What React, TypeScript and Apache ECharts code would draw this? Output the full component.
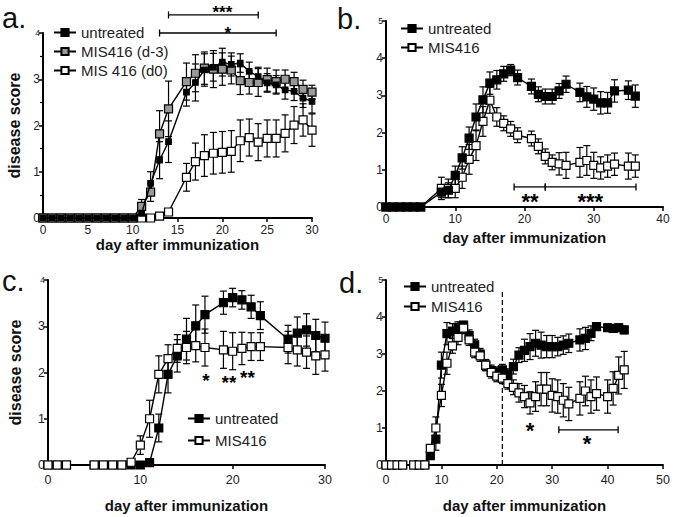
import React, { useEffect, useRef } from 'react';
import * as echarts from 'echarts';

const FONT = '"Liberation Sans", Arial, sans-serif';

// ---------- Panel a ----------
const A_DAYS = [0,1,2,3,4,5,6,7,8,9,10,11,12,13,14,16,17,18,19,20,21,22,23,24,25,26,27,28,29,30];
const A_UNTREATED = [0,0,0,0,0,0,0,0,0,0,0,0.1,0.75,1.25,1.65,2.72,2.93,3.2,3.26,3.37,3.32,3.35,3.17,3.06,2.92,2.88,2.77,2.74,2.59,2.52];
const A_UNTREATED_ERR = [0,0,0,0,0,0,0,0,0,0,0,0.12,0.25,0.4,0.45,0.3,0.4,0.35,0.3,0.3,0.25,0.2,0.2,0.2,0.2,0.2,0.2,0.2,0.2,0.25];
const A_D3 = [0,0,0,0,0,0,0,0,0,0,0,0.25,0.56,1.82,2.36,2.95,3.13,3.24,3.22,3.22,3.2,2.97,2.93,2.93,2.99,2.95,3.0,2.95,2.78,2.72];
const A_D3_ERR = [0,0,0,0,0,0,0,0,0,0,0,0.15,0.2,0.5,0.6,0.4,0.4,0.35,0.4,0.35,0.3,0.3,0.25,0.3,0.25,0.25,0.2,0.2,0.2,0.15];
const A_D0 = [0,0,0,0,0,0,0,0,0,0,0,0,0,0.04,0.13,0.88,1.22,1.35,1.4,1.42,1.44,1.67,1.74,1.64,1.72,1.72,1.83,2.01,2.12,1.9];
const A_D0_ERR = [0,0,0,0,0,0,0,0,0,0,0,0,0,0.03,0.05,0.3,0.4,0.45,0.45,0.45,0.45,0.45,0.4,0.4,0.4,0.4,0.4,0.4,0.35,0.35];
const A_BRACKETS = [[14, 24, 4.39], [13, 26, 4.0]];
const A_STARS = [[20, 4.45], [20.6, 4.0]];
const A_STAR_LABELS = ['***', '*'];

// ---------- Panel b ----------
const B_DAYS = [0,1,2,3,4,5,8,9,10,11,12,13,14,15,16,17,18,19,21,22,23,24,25,26,28,29,30,31,32,33,35,36];
const B_UNTREATED = [0,0,0,0,0,0,0.4,0.45,0.85,1.32,1.85,2.42,2.88,3.33,3.42,3.58,3.68,3.48,3.24,3.03,2.97,2.97,3.12,3.3,3.08,2.96,2.9,2.8,2.8,3.12,3.14,2.98];
const B_UNTREATED_ERR = [0,0,0,0,0,0,0.15,0.2,0.25,0.3,0.3,0.35,0.35,0.3,0.25,0.2,0.15,0.2,0.2,0.2,0.2,0.2,0.2,0.22,0.25,0.28,0.3,0.3,0.28,0.3,0.25,0.3];
const B_MIS = [0,0,0,0,0,0,0.5,0.5,0.5,0.8,1.28,1.65,2.3,2.87,2.42,2.25,2.1,1.93,1.84,1.63,1.36,1.2,1.16,1.12,1.2,1.25,1.12,1.05,1.1,1.15,1.1,1.1];
const B_MIS_ERR = [0,0,0,0,0,0,0.3,0.25,0.25,0.3,0.4,0.4,0.4,0.35,0.25,0.2,0.2,0.2,0.2,0.2,0.2,0.2,0.3,0.35,0.4,0.4,0.35,0.3,0.3,0.3,0.35,0.3];
const B_BRACKETS = [[18.5, 23, 0.54], [23, 36.1, 0.54]];
const B_STARS = [[20.8, 0.16], [29.5, 0.16]];
const B_STAR_LABELS = ['**', '***'];

// ---------- Panel c ----------
const C_DAYS = [0,1,2,5,6,7,8,9,10,11,12,13,14,15,16,17,19,20,21,22,23,26,27,28,29,30];
const C_UNTREATED = [0,0,0,0,0,0,0,0,0,0.05,0.8,1.96,2.36,2.72,3.01,3.25,3.51,3.62,3.57,3.42,3.23,2.72,2.85,2.92,2.8,2.74];
const C_UNTREATED_ERR = [0,0,0,0,0,0,0,0,0,0.05,0.3,0.4,0.35,0.45,0.45,0.4,0.25,0.2,0.2,0.25,0.3,0.3,0.35,0.35,0.35,0.35];
const C_MIS = [0,0,0,0,0,0,0,0.06,0.43,1.0,1.96,2.3,2.52,2.54,2.58,2.54,2.49,2.46,2.52,2.56,2.56,2.54,2.49,2.44,2.36,2.38];
const C_MIS_ERR = [0,0,0,0,0,0,0,0.05,0.2,0.4,0.4,0.3,0.3,0.35,0.35,0.4,0.4,0.4,0.35,0.3,0.3,0.35,0.35,0.35,0.4,0.35];
const C_STARS = [[17.1, 1.82], [19.6, 1.78], [21.6, 1.9]];
const C_STAR_LABELS = ['*', '**', '**'];

// ---------- Panel d ----------
const D_DAYS = [0,1,2,3,5,6,7,8,9,10,11,12,13,14,15,16,17,18,19,20,21,22,23,24,25,26,27,28,29,30,31,32,33,35,36,37,38,40,41,42,43];
const D_UNTREATED = [0,0,0,0,0,0,0,0.25,0.7,2.7,3.55,3.62,3.72,3.78,3.5,3.25,3.0,2.7,2.55,2.5,2.57,2.45,2.66,2.97,3.1,3.2,3.29,3.24,3.2,3.2,3.2,3.24,3.29,3.38,3.42,3.56,3.74,3.71,3.69,3.71,3.65];
const D_UNTREATED_ERR = [0,0,0,0,0,0,0,0.1,0.3,0.35,0.3,0.2,0.15,0.1,0.15,0.15,0.15,0.15,0.15,0.15,0.15,0.15,0.2,0.2,0.3,0.35,0.35,0.35,0.3,0.3,0.25,0.25,0.25,0.3,0.3,0.2,0.1,0.1,0.1,0.1,0.1];
const D_MIS = [0,0,0,0,0,0,0,0.45,1.0,1.88,2.75,3.22,3.45,3.7,3.38,3.05,2.95,2.7,2.5,2.4,2.35,2.2,2.1,1.95,1.85,1.68,1.85,2.05,2.05,1.88,1.85,1.75,1.65,1.8,2.0,1.85,1.93,1.85,2.07,2.42,2.57];
const D_MIS_ERR = [0,0,0,0,0,0,0,0.1,0.3,0.3,0.3,0.2,0.2,0.15,0.15,0.15,0.15,0.15,0.15,0.15,0.15,0.15,0.2,0.25,0.3,0.3,0.4,0.45,0.45,0.45,0.45,0.45,0.45,0.45,0.4,0.45,0.45,0.45,0.45,0.5,0.5];
const D_TREATMENT_DAY = [[21, 0, 4.75]];
const D_BRACKETS = [[31.2, 41.9, 0.95]];
const D_STARS = [[26, 0.92], [36.3, 0.58]];
const D_STAR_LABELS = ['*', '*'];

// ---------- Axes ----------
const X_MAX = [30, 40, 30, 50];
const X_INTERVAL = [5, 10, 10, 10];
const Y_MAX = [4, 5, 4, 5];
const X_TITLE = 'day after immunization';
const Y_TITLE = 'disease score';

const LEGEND_NAMES: Record<string, string> = {
  a_untreated: 'untreated',
  a_d3: 'MIS416 (d-3)',
  a_d0: 'MIS 416 (d0)',
  b_untreated: 'untreated',
  b_mis: 'MIS416',
  c_untreated: 'untreated',
  c_mis: 'MIS416',
  d_untreated: 'untreated',
  d_mis: 'MIS416',
};

const GRIDS = [
  { left: 43, top: 33, width: 269, height: 185 },
  { left: 386, top: 21, width: 277, height: 186 },
  { left: 48, top: 280, width: 277, height: 185 },
  { left: 386, top: 280, width: 277, height: 185 },
];

function lineSeries(name: string, g: number, days: number[], vals: number[], fill: string, size: number, z: number) {
  return {
    type: 'line',
    name,
    xAxisIndex: g,
    yAxisIndex: g,
    data: days.map((d, i) => [d, vals[i]]),
    symbol: 'rect',
    symbolSize: size,
    showSymbol: true,
    showAllSymbol: true,
    clip: false,
    silent: true,
    z,
    itemStyle: { color: fill, borderColor: '#000', borderWidth: 1.2, opacity: 1 },
    lineStyle: { color: '#000', width: 1.4 },
    emphasis: { disabled: true },
  };
}

function errorSeries(name: string, g: number, days: number[], vals: number[], errs: number[], z: number) {
  const data: number[][] = [];
  days.forEach((d, i) => {
    if (errs[i] > 0) data.push([d, Math.max(0, vals[i] - errs[i]), vals[i] + errs[i]]);
  });
  return {
    type: 'custom',
    name: name + '_err',
    xAxisIndex: g,
    yAxisIndex: g,
    data,
    silent: true,
    z,
    encode: { x: 0, y: [1, 2] },
    renderItem: (params: any, api: any) => {
      const x = api.value(0);
      const lo = api.coord([x, api.value(1)]);
      const hi = api.coord([x, api.value(2)]);
      const w = 3.5;
      const st = { stroke: '#000', lineWidth: 1.2 };
      return {
        type: 'group',
        children: [
          { type: 'line', shape: { x1: lo[0], y1: lo[1], x2: hi[0], y2: hi[1] }, style: st },
          { type: 'line', shape: { x1: hi[0] - w, y1: hi[1], x2: hi[0] + w, y2: hi[1] }, style: st },
          { type: 'line', shape: { x1: lo[0] - w, y1: lo[1], x2: lo[0] + w, y2: lo[1] }, style: st },
        ],
      };
    },
  };
}

function bracketSeries(g: number, brackets: number[][]) {
  return {
    type: 'custom',
    xAxisIndex: g,
    yAxisIndex: g,
    data: brackets,
    silent: true,
    clip: false,
    z: 5,
    encode: { x: [0, 1], y: 2 },
    renderItem: (params: any, api: any) => {
      const y = api.value(2);
      const p1 = api.coord([api.value(0), y]);
      const p2 = api.coord([api.value(1), y]);
      const h = 3.5;
      const st = { stroke: '#000', lineWidth: 1.3 };
      return {
        type: 'group',
        children: [
          { type: 'line', shape: { x1: p1[0], y1: p1[1], x2: p2[0], y2: p2[1] }, style: st },
          { type: 'line', shape: { x1: p1[0], y1: p1[1] - h, x2: p1[0], y2: p1[1] + h }, style: st },
          { type: 'line', shape: { x1: p2[0], y1: p2[1] - h, x2: p2[0], y2: p2[1] + h }, style: st },
        ],
      };
    },
  };
}

function starSeries(g: number, stars: number[][], labels: string[], size: number) {
  return {
    type: 'custom',
    xAxisIndex: g,
    yAxisIndex: g,
    data: stars,
    silent: true,
    clip: false,
    z: 6,
    encode: { x: 0, y: 1 },
    renderItem: (params: any, api: any) => {
      const p = api.coord([api.value(0), api.value(1)]);
      return {
        type: 'text',
        x: p[0],
        y: p[1],
        style: {
          text: labels[params.dataIndex],
          font: `bold ${size}px ${FONT}`,
          lineHeight: Math.round(size * 0.55),
          fill: '#000',
          align: 'center',
          verticalAlign: 'middle',
        },
      };
    },
  };
}

function dashedSeries(g: number, data: number[][]) {
  return {
    type: 'custom',
    xAxisIndex: g,
    yAxisIndex: g,
    data,
    silent: true,
    z: 1,
    encode: { x: 0, y: [1, 2] },
    renderItem: (params: any, api: any) => {
      const x = api.value(0);
      const p1 = api.coord([x, api.value(1)]);
      const p2 = api.coord([x, api.value(2)]);
      return {
        type: 'line',
        shape: { x1: p1[0], y1: p1[1], x2: p2[0], y2: p2[1] },
        style: { stroke: '#000', lineWidth: 1.2, lineDash: [5, 3] },
      };
    },
  };
}

const X_NAME_GAP = [17, 23, 33, 33];
const Y_NAME_GAP = [21, 22, 25, 22];
const TICK_FONT = [12, 12, 12.5, 12.5];

function buildOption() {
  const xAxis = X_MAX.map((max, i) => ({
    type: 'value',
    gridIndex: i,
    min: 0,
    max,
    interval: X_INTERVAL[i],
    name: X_TITLE,
    nameLocation: 'middle',
    nameGap: X_NAME_GAP[i],
    nameTextStyle: { fontFamily: FONT, fontSize: 15, fontWeight: 'bold', color: '#111' },
    axisLine: { show: true, onZero: false, lineStyle: { color: '#000', width: 2 } },
    axisTick: { show: true, length: 4, lineStyle: { color: '#000', width: 1.5 } },
    axisLabel: { fontFamily: FONT, fontSize: TICK_FONT[i], color: '#222', margin: i < 2 ? 6 : 8 },
    splitLine: { show: false },
  }));
  const yAxis = Y_MAX.map((max, i) => ({
    type: 'value',
    gridIndex: i,
    min: 0,
    max,
    interval: 1,
    name: i === 0 || i === 2 ? Y_TITLE : '',
    nameLocation: 'middle',
    nameGap: Y_NAME_GAP[i],
    nameTextStyle: { fontFamily: FONT, fontSize: 16, fontWeight: 'bold', color: '#111' },
    axisLine: { show: true, onZero: false, lineStyle: { color: '#000', width: 2 } },
    axisTick: { show: true, length: 4, lineStyle: { color: '#000', width: 1.5 } },
    minorTick: { show: i === 0, splitNumber: 2, length: 3, lineStyle: { color: '#000', width: 1.2 } },
    axisLabel: {
      fontFamily: FONT,
      fontSize: TICK_FONT[i],
      color: '#222',
      margin: 3,
      formatter: (v: number) => (v === max ? `{s|${v}}` : `${v}`),
      rich: { s: { fontFamily: FONT, fontSize: 8.5, color: '#222' } },
    },
    splitLine: { show: false },
  }));

  const series: any[] = [
    // a
    errorSeries('a_d0', 0, A_DAYS, A_D0, A_D0_ERR, 2),
    errorSeries('a_d3', 0, A_DAYS, A_D3, A_D3_ERR, 2),
    errorSeries('a_untreated', 0, A_DAYS, A_UNTREATED, A_UNTREATED_ERR, 2),
    lineSeries('a_d0', 0, A_DAYS, A_D0, '#fff', 8, 3),
    lineSeries('a_d3', 0, A_DAYS, A_D3, '#999', 8, 3),
    lineSeries('a_untreated', 0, A_DAYS, A_UNTREATED, '#000', 5.5, 4),
    bracketSeries(0, A_BRACKETS),
    starSeries(0, A_STARS, A_STAR_LABELS, 17),
    // b
    errorSeries('b_mis', 1, B_DAYS, B_MIS, B_MIS_ERR, 2),
    errorSeries('b_untreated', 1, B_DAYS, B_UNTREATED, B_UNTREATED_ERR, 2),
    lineSeries('b_mis', 1, B_DAYS, B_MIS, '#fff', 8, 3),
    lineSeries('b_untreated', 1, B_DAYS, B_UNTREATED, '#000', 8, 4),
    bracketSeries(1, B_BRACKETS),
    starSeries(1, B_STARS, B_STAR_LABELS, 22),
    // c
    errorSeries('c_mis', 2, C_DAYS, C_MIS, C_MIS_ERR, 2),
    errorSeries('c_untreated', 2, C_DAYS, C_UNTREATED, C_UNTREATED_ERR, 2),
    lineSeries('c_untreated', 2, C_DAYS, C_UNTREATED, '#000', 8, 3),
    lineSeries('c_mis', 2, C_DAYS, C_MIS, '#fff', 8, 4),
    starSeries(2, C_STARS, C_STAR_LABELS, 19),
    // d
    dashedSeries(3, D_TREATMENT_DAY),
    errorSeries('d_mis', 3, D_DAYS, D_MIS, D_MIS_ERR, 2),
    errorSeries('d_untreated', 3, D_DAYS, D_UNTREATED, D_UNTREATED_ERR, 2),
    lineSeries('d_untreated', 3, D_DAYS, D_UNTREATED, '#000', 8, 3),
    lineSeries('d_mis', 3, D_DAYS, D_MIS, '#fff', 8, 4),
    bracketSeries(3, D_BRACKETS),
    starSeries(3, D_STARS, D_STAR_LABELS, 22),
  ];

  const legendText = { fontFamily: FONT, fontSize: 15, color: '#222' };
  const legendBase = {
    orient: 'vertical',
    itemWidth: 22,
    itemHeight: 9,
    padding: 0,
    selectedMode: false,
    formatter: (n: string) => LEGEND_NAMES[n],
    textStyle: legendText,
  };

  const panelLabels = [
    { text: 'a.', x: 2, y: 18 },
    { text: 'b.', x: 337, y: 19 },
    { text: 'c.', x: 2, y: 281 },
    { text: 'd.', x: 339, y: 283 },
  ];

  return {
    animation: false,
    backgroundColor: '#fff',
    grid: GRIDS.map((g) => ({ ...g, containLabel: false, outerBoundsMode: 'none' })),
    xAxis,
    yAxis,
    legend: [
      { ...legendBase, left: 53, top: 25, itemGap: 4, data: ['a_untreated', 'a_d3', 'a_d0'] },
      { ...legendBase, left: 400, top: 21, itemGap: 4, data: ['b_untreated', 'b_mis'] },
      { ...legendBase, left: 187, top: 411, itemGap: 7, data: ['c_untreated', 'c_mis'] },
      { ...legendBase, left: 403, top: 279, itemGap: 5, data: ['d_untreated', 'd_mis'] },
    ],
    graphic: panelLabels.map((p) => ({
      type: 'text',
      x: p.x,
      y: p.y,
      silent: true,
      style: { text: p.text, font: `29px ${FONT}`, fill: '#111', verticalAlign: 'middle' },
    })),
    series,
  };
}

export default function App() {
  const ref = useRef<HTMLDivElement>(null);
  useEffect(() => {
    document.body.style.margin = '0';
    if (!ref.current) return;
    const chart = echarts.init(ref.current, undefined, { renderer: 'svg' });
    chart.setOption(buildOption() as any);
    return () => chart.dispose();
  }, []);
  return <div ref={ref} style={{ width: 675, height: 517 }} />;
}
